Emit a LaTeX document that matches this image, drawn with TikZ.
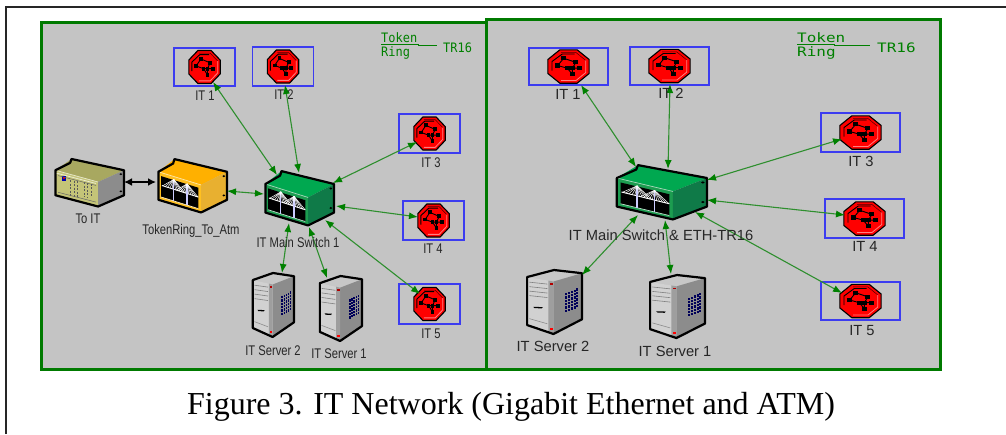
\documentclass[tikz,border=0pt]{standalone}
\usepackage{fontspec}
\setmainfont{Liberation Serif}
\newfontfamily\labL[FakeStretch=0.8]{Liberation Sans}
\newfontfamily\labR{Liberation Sans}
\newfontfamily\monoL[FakeStretch=0.92]{DejaVu Sans Mono}
\newfontfamily\monoR[FakeStretch=1.23]{DejaVu Sans Mono}
\usetikzlibrary{arrows.meta}
\definecolor{panelgray}{HTML}{C4C4C4}
\definecolor{panelgreen}{HTML}{007A00}
\definecolor{linkgreen}{HTML}{2E8F2E}
\definecolor{tipgreen}{HTML}{008000}
\definecolor{boxblue}{HTML}{3C3CF0}
\definecolor{labgray}{HTML}{262626}
\definecolor{swtop}{HTML}{00A850}
\definecolor{swfront}{HTML}{1C9C50}
\definecolor{swside}{HTML}{0F7A48}
\definecolor{ortop}{HTML}{FFB000}
\definecolor{orfront}{HTML}{FFC020}
\definecolor{orside}{HTML}{E8B030}
\definecolor{oltop}{HTML}{A8A860}
\definecolor{olfront}{HTML}{C4C478}
\definecolor{olside}{HTML}{8C8C8C}
\tikzset{
  panel/.style={draw=panelgreen,fill=panelgray,line width=3pt},
  hit/.style={inner sep=0pt,outer sep=0pt,rectangle},
  routerbox/.style={hit,draw=boxblue,line width=1.4pt},
  link/.style={draw=linkgreen,line width=1.1pt,{Latex[length=9pt,width=7pt,color=tipgreen]}-{Latex[length=9pt,width=7pt,color=tipgreen]}},
  blacklink/.style={draw=black,line width=1.8pt,{Latex[length=8pt,width=8pt]}-{Latex[length=8pt,width=8pt]}},
  leftlabel/.style={anchor=base,inner sep=0pt,text=labgray,font=\labL\fontsize{14}{14}\selectfont},
  rightlabel/.style={anchor=base,inner sep=0pt,text=labgray,font=\labR\fontsize{14.7}{14.7}\selectfont},
  ol/.style={draw=black,line width=2.2pt,line join=round},
}
\newcommand{\routerdev}[7]{%
  \node[routerbox,minimum width=#4pt,minimum height=#5pt] (#1) at (#2,#3) {};
  \begin{scope}[shift={(#2,#3)},x=#6pt,y=-#7pt]
    \fill[red,draw=black,line width=1.1pt] (-.42,-1)--(.42,-1)--(1,-.42)--(1,.42)--(.42,1)--(-.42,1)--(-1,.42)--(-1,-.42)--cycle;
    \draw[black!70!red,line width=.5pt] (-.36,-.84)--(.36,-.84)--(.84,-.36);
    \draw[white!50!red,line width=.8pt] (.84,-.36)--(.84,.36)--(.36,.84)--(-.36,.84);
    \draw[black,line width=.9pt] (-.23,-.49)--(.36,-.25)--(.19,.1)--(-.06,.1)--(-.53,-.06)--(-.23,-.49)
      (.19,.1)--(.53,.1) (.19,.1)--(.19,.47)--(-.06,.1) (-.8,.25)--(-.8,-.3)--(-.3,-.75)--(.3,-.75);
    \foreach \a/\b in {-.23/-.49,.36/-.25,-.53/-.06,-.06/.1,.19/.1,.53/.1,.19/.47}
      \fill[black] (\a-.12,\b-.12) rectangle (\a+.12,\b+.12);
  \end{scope}}
\newcommand{\boxbody}[3]{%
  \fill[#1] (.02,.25)--(.25,.02)--(1,.25)--(.63,.49)--cycle;
  \fill[#2] (.02,.25)--(.63,.49)--(.63,.99)--(.02,.76)--cycle;
  \fill[#3] (.63,.49)--(1,.25)--(1,.76)--(.63,.99)--cycle;
  \draw[white!60!#2,line width=.7pt] (.02,.25)--(.63,.49);
  \draw[ol] (.02,.25)--(.23,.1)--(.25,.02)--(1,.25)--(1,.76)--(.63,.99)--(.02,.76)--cycle;
  \fill[black] (.955,.33) circle[radius=.02] (.955,.68) circle[radius=.02];}
\newcommand{\bridgedev}[8]{%
  \node[hit,minimum width=#4pt,minimum height=#5pt] (#1) at ({#2+#4/2},{#3+#5/2}) {};
  \begin{scope}[shift={(#2,#3)},x=#4pt,y=-#5pt]
    \boxbody{#6}{#7}{#8}
    \fill[black] (.06,.33)--(.59,.54)--(.59,.92)--(.06,.71)--cycle;
    \draw[white,line width=.9pt] (.07,.5)--(.59,.71);
    \draw[white!70!#7,line width=.7pt] (.06,.71)--(.59,.92);
    \foreach \tx/\ty/\by/\dy in {.24/.39/.78/.57,.43/.47/.86/.65}{
      \draw[white!80!blue,line width=1.3pt] (\tx,\ty)--(\tx,\by);
      \foreach \d in {-.16,-.125,-.09,-.055,-.025,.025,.055,.09,.125,.16}
        \draw[white,line width=.5pt] (\tx,\ty)--({\tx+\d},{\dy+\d*.4});
    }
  \end{scope}}
\newcommand{\serverdev}[5]{%
  \node[hit,minimum width=#4pt,minimum height=#5pt] (#1) at ({#2+#4/2},{#3+#5/2}) {};
  \begin{scope}[shift={(#2,#3)},x=#4pt,y=-#5pt]
    \fill[black!22] (.02,.11)--(.5,0)--(1,.05)--(.49,.18)--cycle;
    \fill[black!18] (.02,.11)--(.49,.18)--(.49,1)--(.02,.86)--cycle;
    \fill[black!45] (.49,.18)--(1,.05)--(1,.77)--(.49,1)--cycle;
    \fill[black!38] (.40,.165)--(.49,.18)--(.49,1)--(.40,.975)--cycle;
    \foreach \y in {.19,.26,.33,.40}
      \draw[black!50,line width=.6pt] (.06,\y)--(.38,\y+.03);
    \draw[black!45,line width=.6pt] (.06,.76)--(.38,.84);
    \fill[black] (.13,.575)--(.3,.58)--(.28,.6)--(.15,.595)--cycle;
    \fill[red!70!black] (.42,.2) rectangle (.48,.23);
    \fill[red] (.43,.91) rectangle (.48,.94);
    \foreach \i in {0,...,4}\foreach \j in {0,...,5}
      \fill[blue!35!black] ({.70+\i*.05},{.36+\j*.052-\i*.018}) rectangle ++(.035,.036);
    \draw[ol] (.02,.11)--(.5,0)--(1,.05)--(1,.77)--(.49,1)--(.02,.86)--cycle;
  \end{scope}}
\begin{document}
\begin{tikzpicture}[x=1pt,y=-1pt]
\useasboundingbox (0,0) rectangle (1006,434);
\fill[white] (0,0) rectangle (1006,434);
\draw[black!85,line width=2pt] (6,434)--(6,7)--(1006,7);
\path[panel] (41,22) rectangle (486,369);
\path[panel] (486,19) rectangle (940,369);

\node[anchor=base west,inner sep=0pt,text=tipgreen,font=\monoL\fontsize{13}{13}\selectfont] (ltok) at (381,42) {Token};
\node[anchor=base west,inner sep=0pt,text=tipgreen,font=\monoL\fontsize{13}{13}\selectfont] (lrng) at (381,56) {Ring};
\node[anchor=base west,inner sep=0pt,text=tipgreen,font=\monoL\fontsize{13}{13}\selectfont] (ltr) at (443,52) {TR16};
\draw[tipgreen,line width=.9pt] (381,44)--(418,44)--(418,45)--(437,45);
\node[anchor=base west,inner sep=0pt,text=tipgreen,font=\monoR\fontsize{13}{13}\selectfont] (rtok) at (797,42) {Token};
\node[anchor=base west,inner sep=0pt,text=tipgreen,font=\monoR\fontsize{13}{13}\selectfont] (rrng) at (797,56) {Ring};
\node[anchor=base west,inner sep=0pt,text=tipgreen,font=\monoR\fontsize{13}{13}\selectfont] (rtr) at (877,52) {TR16};
\draw[tipgreen,line width=.9pt] (797,44)--(834,44)--(834,45)--(870,45);

\routerdev{lA}{204.5}{67}{61}{38}{15.7}{16.5}
\routerdev{lB}{283}{66.5}{61}{39}{15.7}{16.5}
\routerdev{lC}{429.5}{133.5}{61}{39}{15.7}{16.5}
\routerdev{lD}{433.5}{220.5}{61}{39}{15.7}{16.5}
\routerdev{lE}{429.5}{304}{61}{40}{15.7}{16.5}
\routerdev{rA}{568.5}{66.5}{79}{37}{20.6}{16.7}
\routerdev{rB}{669.5}{66}{79}{38}{20.6}{16.7}
\routerdev{rC}{860.5}{132.5}{79}{39}{20.6}{16.7}
\routerdev{rD}{864.5}{218.5}{79}{39}{20.6}{16.7}
\routerdev{rE}{860.5}{301}{79}{38}{20.6}{16.7}

\bridgedev{lsw}{264}{170}{70}{56}{swtop}{swfront}{swside}
\bridgedev{lor}{157}{158}{70}{55}{ortop}{orfront}{orside}
\bridgedev{rsw}{615}{164}{92}{56}{swtop}{swfront}{swside}

\node[hit,minimum width=70pt,minimum height=49pt] (ltoit) at (89,182.5) {};
\begin{scope}[shift={(54,158)},x=70pt,y=-49pt]
  \boxbody{oltop}{olfront}{olside}
  \fill[blue!70!black] (.12,.36) rectangle (.17,.46);
  \fill[red!80!black] (.13,.39) rectangle (.16,.43);
  \foreach \x in {.24,.29,.34,.43,.48,.53}
    \draw[black!65,line width=.8pt,dash pattern=on 2pt off 1.5pt] (\x,.42+\x*.25-.03)--(\x,.78+\x*.05);
  \draw[black!60,line width=.5pt] (.06,.36)--(.6,.56) (.06,.7)--(.6,.9);
  \draw[white!70!olfront,line width=.7pt] (.04,.31)--(.6,.52);
\end{scope}

\serverdev{ls2}{252}{273}{42}{64}
\serverdev{ls1}{319}{276}{43}{65}
\serverdev{rs2}{526}{270}{56}{64}
\serverdev{rs1}{649}{275}{56}{63}

\draw[link] ([shift={(8.5,15)}]lA.center) -- ([shift={(-22,-23)}]lsw.center);
\draw[link] ([shift={(2,18.5)}]lB.center) -- ([shift={(0,-25)}]lsw.center);
\draw[link] ([shift={(-12.5,8.5)}]lC.center) -- ([shift={(34,-15)}]lsw.center);
\draw[link] ([shift={(-15.5,-3.5)}]lD.center) -- ([shift={(37,8)}]lsw.center);
\draw[link] ([shift={(-9.5,-10)}]lE.center) -- ([shift={(26,22)}]lsw.center);
\draw[link] ([shift={(9,-32)}]ls2.center) -- ([shift={(-10,25)}]lsw.center);
\draw[link] ([shift={(-13.5,-30.5)}]ls1.center) -- ([shift={(10,29)}]lsw.center);
\draw[link] ([shift={(35,5.5)}]lor.center) -- ([shift={(-35,-4)}]lsw.center);
\draw[blacklink] ([shift={(35,-.5)}]ltoit.center) -- ([shift={(-36,-3.5)}]lor.center);
\draw[link] ([shift={(12.5,18.5)}]rA.center) -- ([shift={(-25,-25)}]rsw.center);
\draw[link] ([shift={(.5,18)}]rB.center) -- ([shift={(7,-23)}]rsw.center);
\draw[link] ([shift={(-18.5,6.5)}]rC.center) -- ([shift={(46,-12)}]rsw.center);
\draw[link] ([shift={(-19.5,-3.5)}]rD.center) -- ([shift={(46,8)}]rsw.center);
\draw[link] ([shift={(-18.5,-8)}]rE.center) -- ([shift={(34,20)}]rsw.center);
\draw[link] ([shift={(28,-27)}]rs2.center) -- ([shift={(-23,23)}]rsw.center);
\draw[link] ([shift={(-6,-32.5)}]rs1.center) -- ([shift={(4,28)}]rsw.center);

\node[leftlabel] (tlA) at (205,100) {IT 1};
\node[leftlabel] (tlB) at (284,99) {IT 2};
\node[leftlabel] (tlC) at (431,167) {IT 3};
\node[leftlabel] (tlD) at (433,253) {IT 4};
\node[leftlabel] (tlE) at (431,338) {IT 5};
\node[leftlabel] (tlt) at (88,223) {To IT};
\node[leftlabel] (tlo) at (191,234) {TokenRing\_To\_Atm};
\node[leftlabel] (tls) at (298,247) {IT Main Switch 1};
\node[leftlabel] (tl2) at (273,355) {IT Server 2};
\node[leftlabel] (tl1) at (339,358) {IT Server 1};
\node[rightlabel] (trA) at (568,99) {IT 1};
\node[rightlabel] (trB) at (671,98) {IT 2};
\node[rightlabel] (trC) at (861,166) {IT 3};
\node[rightlabel] (trD) at (865,251) {IT 4};
\node[rightlabel] (trE) at (862,335) {IT 5};
\node[rightlabel] (trs) at (661,240) {IT Main Switch \& ETH-TR16};
\node[rightlabel] (tr2) at (553,351) {IT Server 2};
\node[rightlabel] (tr1) at (675,356) {IT Server 1};

\node[anchor=base,inner sep=0pt,font=\fontsize{32}{32}\selectfont] (cap) at (511,414) {Figure 3. IT Network (Gigabit Ethernet and ATM)};
\end{tikzpicture}
\end{document}
